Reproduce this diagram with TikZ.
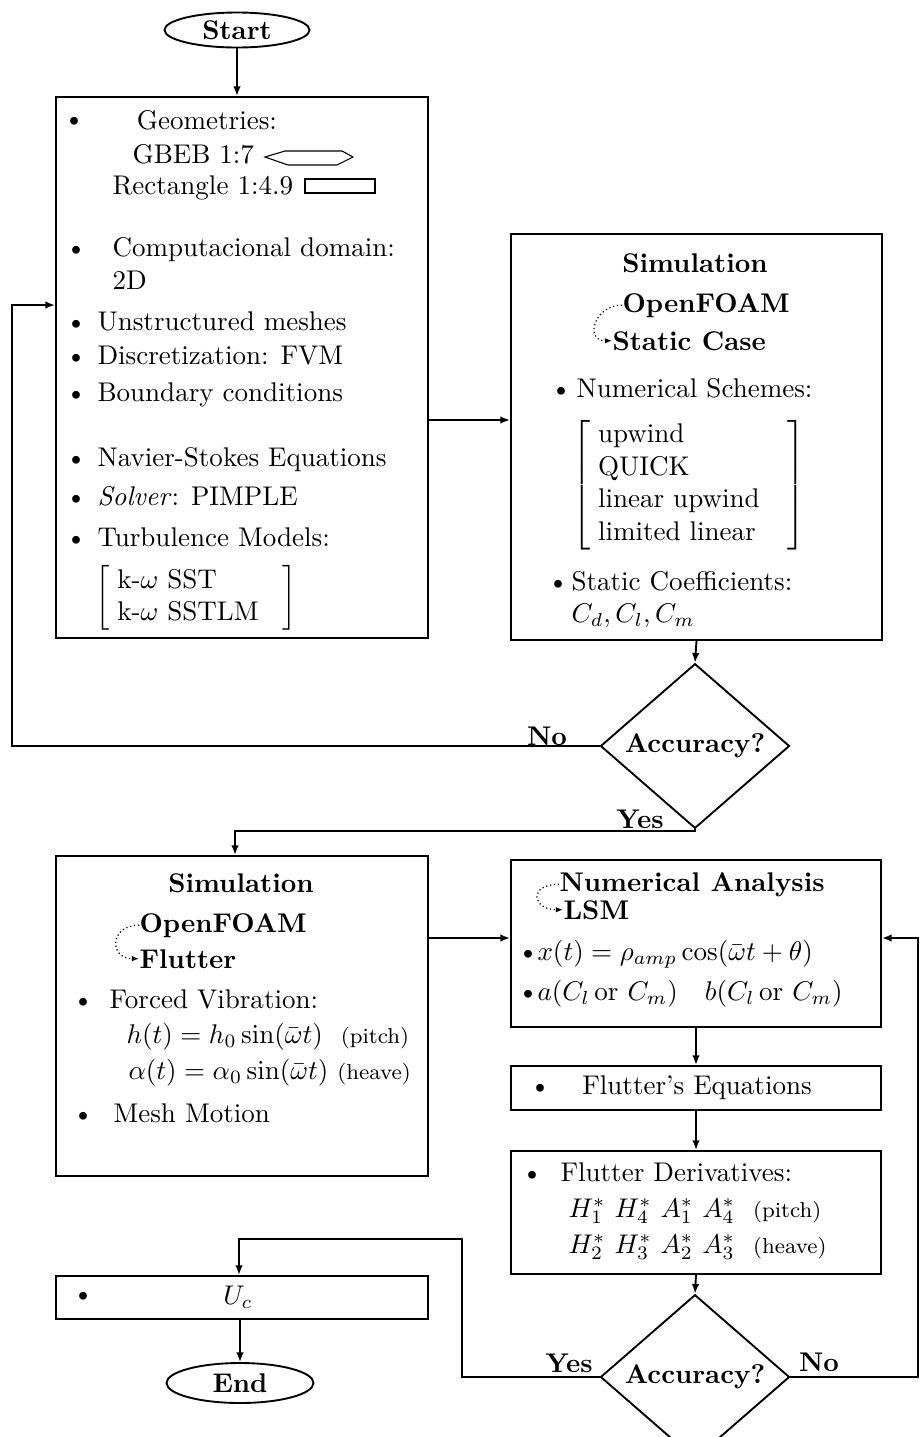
\documentclass[tikz,border=0pt]{standalone}
\usepackage{amsmath}
\usetikzlibrary{shapes.geometric,arrows.meta,fit}
% lengths given in drawing units (1 unit = 0.37pt)
\newcommand\px[1]{#1*0.37pt}

\begin{document}
\begin{tikzpicture}[x=0.37pt,y=-0.37pt,
  box/.style={draw, line width=0.7pt, inner sep=0pt},
  txt/.style={inner sep=0pt, anchor=base west},
  ctr/.style={inner sep=0pt, anchor=base},
  lbl/.style={inner sep=0pt, font=\bfseries},
  arr/.style={line width=0.7pt, -{Latex[length=3.6pt,width=2.8pt]}},
  swirl/.style={densely dotted, line width=0.45pt, -{Latex[length=2.6pt,width=2pt]}},
  decision/.style={diamond, draw, line width=0.7pt, inner sep=0pt,
    minimum width=\px{189}, minimum height=\px{120}, font=\bfseries},
  terminal/.style={ellipse, draw, line width=0.7pt, inner sep=0pt,
    font=\bfseries},
  profile/.style={line width=0.4pt},
]
\useasboundingbox (0,0) rectangle (922,1437);

% ---------- terminals ----------
\node[terminal, minimum width=\px{145}, minimum height=\px{35}] (start) at (237,30) {Start};
\node[terminal, minimum width=\px{147}, minimum height=\px{40}] (end) at (240,1383) {End};

% ---------- boxes ----------
\node[box, fit={(56,97) (428,638)}] (b1) {};
\node[box, fit={(511,234) (882,640)}] (b2) {};
\node[box, fit={(56,856) (428,1176)}] (b3) {};
\node[box, fit={(511,860) (881,1027)}] (b4) {};
\node[box, fit={(511,1066) (881,1110)}] (b5) {};
\node[box, fit={(511,1151) (881,1274)}] (b6) {};
\node[box, fit={(56,1276) (428,1319)}] (b7) {};

% ---------- decisions ----------
\node[decision] (d1) at (695,746) {Accuracy?};
\node[decision] (d2) at (695,1377) {Accuracy?};

% ---------- pre-processing box ----------
\node[txt] at (63,127) {\textbullet};
\node[ctr] at (207,129) {Geometries:};
\node[txt] at (132,163) {GBEB 1:7};
\node[txt] at (112,194) {Rectangle 1:4.9};
\draw[profile] (265,157) -- (285,151) -- (342,151) -- (353,157) -- (337,165) -- (288,165) -- cycle;
\draw[profile] (305,179) rectangle (375,193);
\node[txt] at (65,256) {\textbullet};
\node[txt] at (112,256) {Computacional domain:};
\node[txt] at (112,289) {2D};
\node[txt] at (65,330) {\textbullet};
\node[txt] at (97,330) {Unstructured meshes};
\node[txt] at (65,364) {\textbullet};
\node[txt] at (97,364) {Discretization: FVM};
\node[txt] at (65,401) {\textbullet};
\node[txt] at (97,401) {Boundary conditions};
\node[txt] at (65,466) {\textbullet};
\node[txt] at (97,466) {Navier-Stokes Equations};
\node[txt] at (65,505) {\textbullet};
\node[txt] at (97,505) {\textit{Solver}: PIMPLE};
\node[txt] at (65,546) {\textbullet};
\node[txt] at (97,546) {Turbulence Models:};
\node[inner sep=0pt, anchor=west] at (95,598)
  {$\left[\begin{array}{@{\;}l@{}}\makebox[61pt][l]{k-$\omega$ SST}\\ \text{k-$\omega$ SSTLM}\end{array}\right]$};

% ---------- static simulation box ----------
\node[ctr, font=\bfseries] at (695,272) {Simulation};
\node[txt, font=\bfseries] (ofa) at (622,312) {OpenFOAM};
\node[txt, font=\bfseries] (sca) at (612,350) {Static Case};
\draw[swirl] (ofa.west) .. controls +(-28,0) and +(-28,0) .. (sca.west);
\node[txt] at (550,397) {\textbullet};
\node[txt] at (576,397) {Numerical Schemes:};
\node[inner sep=0pt, anchor=west] at (572,485)
  {$\left[\begin{array}{@{\;}l@{}}\makebox[70pt][l]{upwind}\\ \text{QUICK}\\ \text{linear upwind}\\ \text{limited linear}\end{array}\right]$};
\node[txt] at (547,590) {\textbullet};
\node[txt] at (571,590) {Static Coefficients:};
\node[txt] at (571,622) {$C_d, C_l, C_m$};

% ---------- flutter simulation box ----------
\node[ctr, font=\bfseries] at (241,892) {Simulation};
\node[txt, font=\bfseries] (ofb) at (139,932) {OpenFOAM};
\node[txt, font=\bfseries] (flb) at (139,968) {Flutter};
\draw[swirl] (ofb.west) .. controls +(-30,0) and +(-30,0) .. (flb.west);
\node[txt] at (72,1008) {\textbullet};
\node[txt] at (109,1008) {Forced Vibration:};
\node[txt] at (126,1043) {$h(t) = h_0\sin(\bar{\omega}t)$\ \ {\footnotesize (pitch)}};
\node[txt] at (128,1079) {$\alpha(t) = \alpha_0\sin(\bar{\omega}t)$\ {\footnotesize (heave)}};
\node[txt] at (72,1122) {\textbullet};
\node[txt] at (113,1122) {Mesh Motion};

% ---------- numerical analysis box ----------
\node[txt, font=\bfseries] (na) at (559,891) {Numerical Analysis};
\node[txt, font=\bfseries] (lsm) at (563,919) {LSM};
\draw[swirl] (na.west) .. controls +(-31,0) and +(-31,0) .. (lsm.west);
\node[txt] at (517,960) {\textbullet};
\node[txt] at (537,960) {$x(t) = \rho_{amp}\cos(\bar{\omega}t + \theta)$};
\node[txt] at (517,1000) {\textbullet};
\node[txt] at (537,1000) {$a(C_l\,\mathrm{or}\ C_m)\quad b(C_l\,\mathrm{or}\ C_m)$};

% ---------- flutter equations / derivatives ----------
\node[txt] at (529,1094) {\textbullet};
\node[ctr] at (697,1094) {Flutter's Equations};
\node[txt] at (521,1181) {\textbullet};
\node[txt] at (560,1181) {Flutter Derivatives:};
\node[txt] at (568,1217) {$H_1^*\ H_4^*\ A_1^*\ A_4^*$\ \ {\footnotesize (pitch)}};
\node[txt] at (568,1253) {$H_2^*\ H_3^*\ A_2^*\ A_3^*$\ \ {\footnotesize (heave)}};

% ---------- critical velocity ----------
\node[txt] at (72,1302) {\textbullet};
\node[ctr] at (238,1304) {$U_c$};

% ---------- connectors ----------
\coordinate (j1) at (470,420);
\coordinate (loopL) at (12,305);
\coordinate (yes1) at (235,831);
\coordinate (j2) at (470,938);
\coordinate (yes2) at (462,1239);
\coordinate (yes2b) at (239,1239);
\coordinate (noR) at (918,938);

\draw[arr] (start.south) -- (start.south |- b1.north);
\draw[arr] (b1.east |- j1) -- (b2.west |- j1);
\draw[arr] (b2.south) -- (d1.north);
\draw[arr] (d1.west) -| (loopL) -- (b1.west |- loopL);
\draw[arr] (d1.south) |- (yes1) -- (yes1 |- b3.north);
\draw[arr] (b3.east |- j2) -- (b4.west |- j2);
\draw[arr] (b4.south) -- (b5.north);
\draw[arr] (b5.south) -- (b6.north);
\draw[arr] (b6.south) -- (d2.north);
\draw[arr] (d2.west) -| (yes2) -- (yes2b) -- (yes2b |- b7.north);
\draw[arr] (d2.east) -| (noR) -- (b4.east |- noR);
\draw[arr] (end.north |- b7.south) -- (end.north);

% ---------- branch labels ----------
\node[lbl] at (547,736) {No};
\node[lbl] at (640,819) {Yes};
\node[lbl] at (569,1363) {Yes};
\node[lbl] at (819,1362) {No};
\end{tikzpicture}
\end{document}
